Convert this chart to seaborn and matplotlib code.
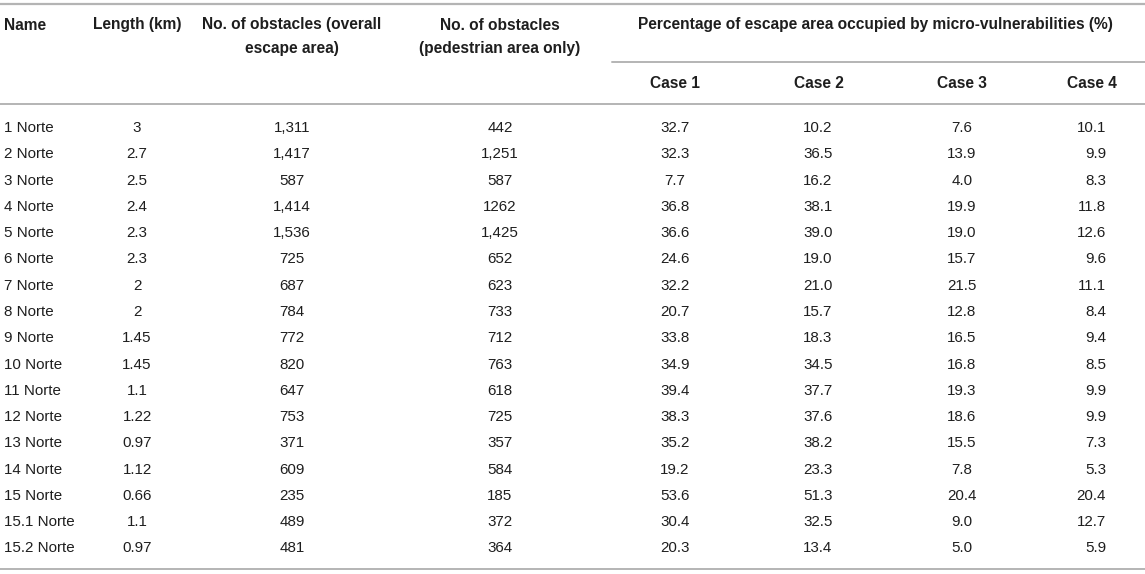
import matplotlib
matplotlib.use("Agg")
import matplotlib.pyplot as plt
import seaborn as sns

names = ["1 Norte", "2 Norte", "3 Norte", "4 Norte", "5 Norte", "6 Norte", "7 Norte",
         "8 Norte", "9 Norte", "10 Norte", "11 Norte", "12 Norte", "13 Norte", "14 Norte",
         "15 Norte", "15.1 Norte", "15.2 Norte"]
length_km = ["3", "2.7", "2.5", "2.4", "2.3", "2.3", "2", "2", "1.45", "1.45", "1.1",
             "1.22", "0.97", "1.12", "0.66", "1.1", "0.97"]
obst_overall = ["1,311", "1,417", "587", "1,414", "1,536", "725", "687", "784", "772",
                "820", "647", "753", "371", "609", "235", "489", "481"]
obst_pedestrian = ["442", "1,251", "587", "1262", "1,425", "652", "623", "733", "712",
                   "763", "618", "725", "357", "584", "185", "372", "364"]
case1 = ["32.7", "32.3", "7.7", "36.8", "36.6", "24.6", "32.2", "20.7", "33.8", "34.9",
         "39.4", "38.3", "35.2", "19.2", "53.6", "30.4", "20.3"]
case2 = ["10.2", "36.5", "16.2", "38.1", "39.0", "19.0", "21.0", "15.7", "18.3", "34.5",
         "37.7", "37.6", "38.2", "23.3", "51.3", "32.5", "13.4"]
case3 = ["7.6", "13.9", "4.0", "19.9", "19.0", "15.7", "21.5", "12.8", "16.5", "16.8",
         "19.3", "18.6", "15.5", "7.8", "20.4", "9.0", "5.0"]
case4 = ["10.1", "9.9", "8.3", "11.8", "12.6", "9.6", "11.1", "8.4", "9.4", "8.5",
         "9.9", "9.9", "7.3", "5.3", "20.4", "12.7", "5.9"]

col_headers = ["Name", "Length (km)", "No. of obstacles (overall\nescape area)",
               "No. of obstacles\n(pedestrian area only)"]
group_header = "Percentage of escape area occupied by micro-vulnerabilities (%)"
case_headers = ["Case 1", "Case 2", "Case 3", "Case 4"]

sns.set_theme(style="white")
plt.rcParams['font.family'] = ['Liberation Sans', 'DejaVu Sans']

W, H = 1145, 574
fig = plt.figure(figsize=(W / 100, H / 100), dpi=100)
ax = fig.add_axes([0, 0, 1, 1])
ax.set_xlim(0, W)
ax.set_ylim(H, 0)
ax.axis("off")

txt = "#1e1e1e"
line_c = "#b4b4b4"
fs = 10.9
fsh = 11.2

# rules
ax.plot([0, W], [4, 4], color=line_c, lw=1.6)
ax.plot([612, W], [62, 62], color=line_c, lw=1.4)
ax.plot([0, W], [104, 104], color=line_c, lw=1.4)
ax.plot([0, W], [569, 569], color=line_c, lw=1.4)

# headers
hy1, hy2 = 25, 48
x_len, x_over, x_ped = 137, 292, 500
ax.text(4, hy1, col_headers[0], ha="left", va="center", fontsize=fsh, fontweight="bold", color=txt)
ax.text(x_len, hy1, col_headers[1], ha="center", va="center", fontsize=fsh, fontweight="bold", color=txt)
for x, h in zip([x_over, x_ped], col_headers[2:]):
    l1, l2 = h.split("\n")
    ax.text(x, hy1, l1, ha="center", va="center", fontsize=fsh, fontweight="bold", color=txt)
    ax.text(x, hy2, l2, ha="center", va="center", fontsize=fsh, fontweight="bold", color=txt)
ax.text(875, hy1, group_header, ha="center", va="center", fontsize=fsh, fontweight="bold", color=txt)

case_x = [675, 819, 962, 1092]
for x, h in zip(case_x, case_headers):
    ax.text(x, 83, h, ha="center", va="center", fontsize=fsh, fontweight="bold", color=txt)

# body
y0, dy = 128, 26.28
cols = [(x_len, length_km, "center"), (x_over, obst_overall, "center"),
        (x_ped, obst_pedestrian, "center"), (675, case1, "center"), (818, case2, "center"),
        (962, case3, "center"), (1106, case4, "right")]
for i, nm in enumerate(names):
    y = y0 + i * dy
    ax.text(4, y, nm, ha="left", va="center", fontsize=fs, color=txt)
    for x, vals, ha in cols:
        ax.text(x, y, vals[i], ha=ha, va="center", fontsize=fs, color=txt)

fig.savefig("out.png", dpi=100)
